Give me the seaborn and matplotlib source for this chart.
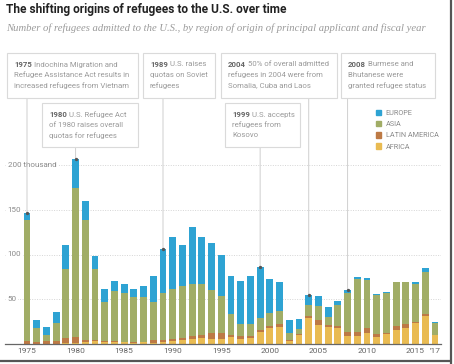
import numpy as np
import pandas as pd
import seaborn as sns
import matplotlib
matplotlib.use("Agg")
import matplotlib.pyplot as plt
from matplotlib.patches import Rectangle
from matplotlib.lines import Line2D

# ---------------- data (thousands of refugees) ----------------
years = list(range(1975, 2018))
europe = [7.5, 9.5, 9.5, 12, 27.5, 33, 20.5, 14, 14, 11, 10.5, 9, 12.5, 29,
          49.5, 57, 46, 64, 52, 52.5, 46, 42, 48, 54.5, 57.5, 38, 32, 15, 11.5,
          11, 11, 10.5, 4, 2.9, 2.7, 1.9, 1.3, 1.1, 0.6, 0.6, 2.6, 4.5, 2]
asia = [135, 15, 7, 21, 76.5, 166, 134, 79.5, 43.5, 56, 54.5, 51, 49.5, 42.5,
        51.5, 56.5, 58.5, 58.5, 57, 48, 41, 23.5, 13, 13, 13, 14.5, 15, 7, 5.7,
        11.7, 16, 9.3, 23, 44.4, 58.5, 54, 43.9, 43.9, 48.9, 47, 42, 47.8, 12.5]
latin = [3, 2, 2.5, 2.5, 6, 7, 3, 1.5, 1, 0.5, 0.5, 0.5, 0.5, 3,
         3, 2.5, 2, 3, 3, 6, 6.5, 3, 3, 2.5, 2.5, 3, 2.5, 2, 0.8,
         2.3, 5.5, 2.7, 3, 3.7, 4.5, 4.8, 3.4, 1.9, 4.5, 4.5, 2, 1.3, 0.5]
africa = [0.5, 0.5, 0.5, 0.5, 1, 1, 2, 3, 2.5, 2.5, 2, 1.5, 2, 1.5,
          2, 3, 4.5, 5.5, 7, 6, 6, 7.5, 6, 6.5, 13, 17.5, 19.5, 3, 10,
          29.5, 21, 18.5, 17.5, 9.3, 9.3, 12.7, 7.4, 10.8, 15.6, 17.5, 23, 31.7, 10]
regions = ["EUROPE", "ASIA", "LATIN AMERICA", "AFRICA"]
colors = {"EUROPE": "#2ea3d3", "ASIA": "#a1ad66", "LATIN AMERICA": "#bd7a45", "AFRICA": "#e9bb52"}
xtick_years = [1975, 1980, 1985, 1990, 1995, 2000, 2005, 2010, 2015, 2017]
xtick_labels = ["1975", "1980", "1985", "1990", "1995", "2000", "2005", "2010", "2015", "'17"]
ytick_vals = [50, 100, 150, 200]
ytick_labels = ["50", "100", "150", "200 thousand"]

notes = [
    # (year, box px x0, y0, x1, y1, bold, lines)
    (1975, 7, 53, 138, 98, "1975", ["Indochina Migration and", "Refugee Assistance Act results in", "increased refugees from Vietnam"]),
    (1980, 42, 103, 138, 147, "1980", ["U.S. Refugee Act", "of 1980 raises overall", "quotas for refugees"]),
    (1989, 143, 53, 215, 98, "1989", ["U.S. raises", "quotas on Soviet", "refugees"]),
    (1999, 225, 103, 300, 147, "1999", ["U.S. accepts", "refugees from", "Kosovo"]),
    (2004, 221, 53, 337, 98, "2004", ["50% of overall admitted", "refugees in 2004 were from", "Somalia, Cuba and Laos"]),
    (2008, 341, 53, 435, 98, "2008", ["Burmese and", "Bhutanese were", "granted refugee status"]),
]

df = pd.DataFrame({"year": years, "EUROPE": europe, "ASIA": asia,
                   "LATIN AMERICA": latin, "AFRICA": africa})
df["c_africa"] = df["AFRICA"]
df["c_latin"] = df["c_africa"] + df["LATIN AMERICA"]
df["c_asia"] = df["c_latin"] + df["ASIA"]
df["c_europe"] = df["c_asia"] + df["EUROPE"]

# ---------------- figure ----------------
W, H = 454, 364
sns.set_theme(style="white")
plt.rcParams["font.family"] = ["Roboto", "DejaVu Sans"]
fig = plt.figure(figsize=(W / 100, H / 100), dpi=100)
fig.patch.set_facecolor("white")

ax_left, ax_right, ax_top, ax_bottom = 5, 441, 138, 344
ax = fig.add_axes([ax_left / W, 1 - ax_bottom / H, (ax_right - ax_left) / W, (ax_bottom - ax_top) / H])

for col, reg in [("c_europe", "EUROPE"), ("c_asia", "ASIA"), ("c_latin", "LATIN AMERICA"), ("c_africa", "AFRICA")]:
    sns.barplot(data=df, x="year", y=col, color=colors[reg], native_scale=True,
                width=0.7, errorbar=None, ax=ax, label=reg, saturation=1, linewidth=0)

px_per_year = 9.714
ax.set_xlim(1975 - (27 - ax_left) / px_per_year, 2017 + (ax_right - 435) / px_per_year)
ax.set_ylim(0, 200 * (ax_bottom - ax_top) / (ax_bottom - 165))
ax.set_xlabel("")
ax.set_ylabel("")

ax.set_xticks(xtick_years)
ax.set_xticklabels(xtick_labels, fontsize=6, color="#666666")
ax.set_yticks(ytick_vals)
ax.set_yticklabels(ytick_labels, fontsize=5.8, color="#8a8a8a")
ax.tick_params(axis="x", length=0, pad=3)
ax.tick_params(axis="y", length=0, pad=-2)
for lab in ax.get_yticklabels():
    lab.set_horizontalalignment("left")
    lab.set_verticalalignment("center")
    lab.set_bbox(dict(facecolor="white", edgecolor="none", pad=1.2))
ax.yaxis.grid(True, color="#d5d5d5", linestyle=(0, (1, 1.5)), linewidth=0.7)
ax.set_axisbelow(True)
for s in ["top", "right", "left"]:
    ax.spines[s].set_visible(False)
ax.spines["bottom"].set_color("#666666")
ax.spines["bottom"].set_linewidth(0.9)

handles = [Rectangle((0, 0), 1, 1, color=colors[r]) for r in regions]
leg = ax.legend(handles, regions, loc="upper left", bbox_to_anchor=(376 / W, 1 - 110 / H),
                bbox_transform=fig.transFigure, frameon=False, fontsize=5.2,
                handlelength=0.75, handleheight=0.75, handletextpad=0.6, labelspacing=0.55,
                borderpad=0, borderaxespad=0)
for t in leg.get_texts():
    t.set_color("#8a8a8a")

# ---------------- title ----------------
fig.text(6 / W, 1 - 9 / H, "The shifting origins of refugees to the U.S. over time",
         fontsize=8.6, fontweight="bold", color="#222222", va="center", ha="left")
fig.text(6 / W, 1 - 28 / H,
         "Number of refugees admitted to the U.S., by region of origin of principal applicant and fiscal year",
         fontsize=7.65, style="italic", family=["Liberation Serif", "DejaVu Serif"],
         color="#9a9a9a", va="center", ha="left")

# ---------------- annotations ----------------
totals = dict(zip(df["year"], df["c_europe"]))
fig.canvas.draw()
renderer = fig.canvas.get_renderer()
for yr, x0, y0, x1, y1, bold, lines in notes:
    ax.annotate("", xy=(yr, totals[yr]), xycoords="data",
                xytext=(yr, 1 - y1 / H), textcoords=("data", "figure fraction"),
                arrowprops=dict(arrowstyle="-", color="#cfcfcf", lw=0.7, shrinkA=0, shrinkB=0),
                annotation_clip=False, zorder=1)
    ax.plot([yr], [totals[yr]], marker="o", ms=1.4, color="#555555", zorder=5, clip_on=False)
    fig.add_artist(Rectangle((x0 / W, 1 - y1 / H), (x1 - x0) / W, (y1 - y0) / H,
                             transform=fig.transFigure, facecolor="white",
                             edgecolor="#dadada", linewidth=0.8, zorder=3))
    tx = (x0 + 7) / W
    for i, line in enumerate(lines):
        ty = 1 - (y0 + 11.5 + i * 10.4) / H
        if i == 0:
            tb = fig.text(tx, ty, bold, fontsize=5.6, fontweight="bold", color="#666666",
                          va="center", ha="left", zorder=4)
            ext = tb.get_window_extent(renderer=renderer)
            fig.text(ext.x1 / W + 2.5 / W, ty, line, fontsize=5.6, color="#9a9a9a",
                     va="center", ha="left", zorder=4)
        else:
            fig.text(tx, ty, line, fontsize=5.6, color="#9a9a9a", va="center", ha="left", zorder=4)

# ---------------- screenshot frame shadow ----------------
fig.add_artist(Line2D([451 / W, 451 / W], [0, 1], transform=fig.transFigure, color="#555555", lw=1.6))
fig.add_artist(Line2D([0, 451 / W], [3 / H, 3 / H], transform=fig.transFigure, color="#555555", lw=1.6))

fig.savefig("out.png", dpi=100, facecolor="white")
